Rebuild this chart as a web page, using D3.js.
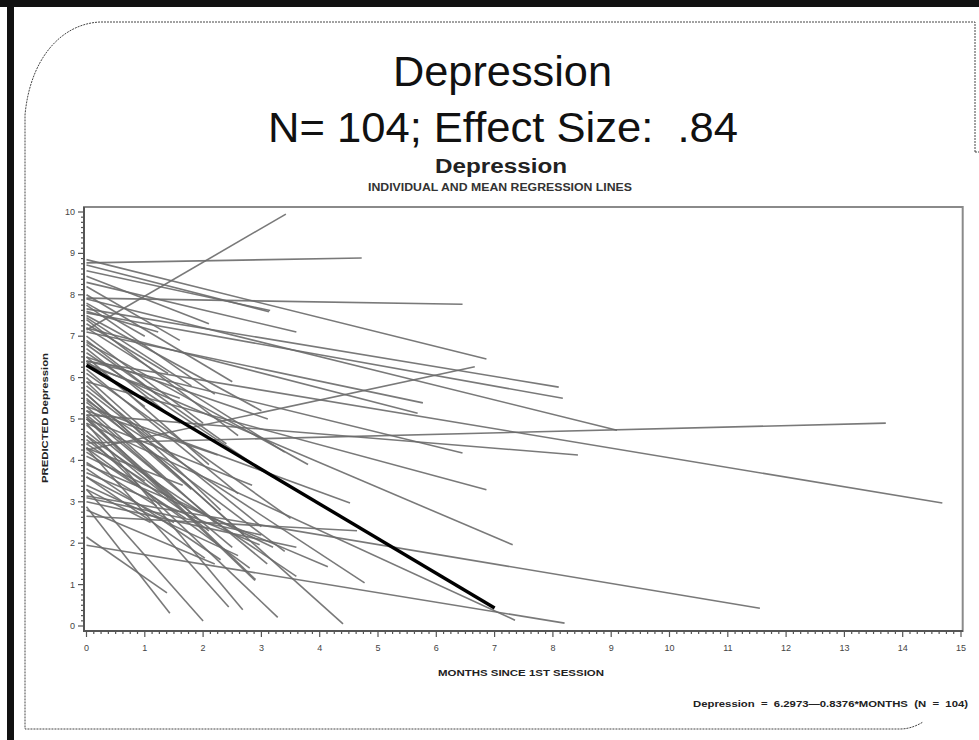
<!DOCTYPE html>
<html><head><meta charset="utf-8">
<script src="https://cdn.jsdelivr.net/npm/d3@7"></script>
<style>
html,body{margin:0;padding:0;background:#fff;}
svg{display:block;}
text{font-family:"Liberation Sans",Arial,sans-serif;white-space:pre;}
</style></head>
<body><svg id="chart" width="979" height="740"></svg>
<script>
// ---- data ----
const xTicks = [0,1,2,3,4,5,6,7,8,9,10,11,12,13,14,15];
const yTicks = [0,1,2,3,4,5,6,7,8,9,10];
// individual regression lines: predicted value at month 0, last month, predicted value at last month
const startValues = [7.15,8.77,7.92,8.85,8.72,8.58,7.56,7.66,7.9,6.4,4.42,3.14,4.25,7.1,7.2,6.4,5.1,5.9,6.35,4.9,1.95,5.45,5.6,5.3,7.6,6.5,
  2.15,2.88,3.3,4.3,4.9,4.6,5.0,5.05,3.6,3.9,3.7,4.3,5.0,5.2,
  8.45,8.3,8.2,8.0,7.8,7.75,7.5,7.45,7.4,7.3,7.2,7.0,6.9,6.85,6.8,6.7,6.6,6.5,6.4,6.2,6.1,6.0,5.9,5.8,5.7,5.6,5.5,5.4,5.3,5.2,5.1,5.0,4.85,4.7,4.6,4.5,4.4,4.3,4.2,4.1,3.95,3.8,3.6,3.4,3.3,3.1,3.0,2.65,2.8,6.3];
const endMonths = [3.42,4.72,6.45,6.86,3.13,3.15,8.17,8.1,9.1,14.68,13.71,11.55,6.66,5.77,5.68,6.45,8.43,6.86,7.31,7.35,8.2,4.77,4.4,4.52,1.23,3.11,
  1.38,1.43,2.0,2.44,2.68,3.28,2.89,2.9,2.03,4.14,2.97,1.65,2.84,2.25,
  2.1,3.6,1.6,2.5,1.0,2.2,3.0,1.8,2.6,1.4,3.4,2.0,1.2,3.8,2.4,1.6,3.2,2.1,1.0,2.6,3.5,1.5,2.3,3.0,1.1,2.7,1.8,3.4,2.2,1.3,3.1,1.9,2.5,1.4,3.6,2.1,1.0,2.8,1.7,3.2,1.2,2.3,1.5,2.6,1.1,3.0,3.6,4.64,2.2,1.6];
const endValues = [9.95,8.89,7.77,6.45,7.59,7.62,5.5,5.77,4.73,2.97,4.9,0.43,6.26,5.39,5.14,4.18,4.13,3.29,1.96,0.14,0.07,1.04,0.05,2.97,7.1,5.0,
  0.8,0.31,0.12,0.46,0.39,0.21,1.1,1.12,1.64,1.43,1.96,3.4,3.4,4.13,
  7.3,7.1,6.9,5.9,7.0,5.6,5.2,5.8,4.6,6.1,4.2,4.9,5.6,3.9,4.4,4.9,3.6,3.9,5.3,3.2,2.6,4.1,2.8,2.4,4.5,2.2,3.3,1.8,2.5,3.6,1.5,2.6,1.9,3.1,1.2,2.3,3.5,1.4,2.6,1.9,2.9,1.6,2.5,1.7,2.5,2.2,1.9,2.3,1.5,5.5];
const meanIntercept = 6.2973, meanSlope = -0.8376, meanEnd = 7.0;

// ---- layout ----
const svg = d3.select("#chart");
const x = d3.scaleLinear().domain([0,15]).range([86.5,961]);
const y = d3.scaleLinear().domain([0,10]).range([626,212]);

// outer decoration
svg.append("rect").attr("x",0).attr("y",0).attr("width",979).attr("height",7).attr("fill","#111");
svg.append("rect").attr("x",7).attr("y",0).attr("width",7).attr("height",740).attr("fill","#111");
svg.append("path")
  .attr("d","M975,152 L975,22 L100,22 C60,24 30,60 25,115 L25,729 L900,729 C910,729 918,725 923,722")
  .attr("fill","none").attr("stroke","#444").attr("stroke-width",1).attr("stroke-dasharray","2,1");
svg.append("path").attr("d","M975,152 L979,152").attr("stroke","#444").attr("stroke-dasharray","2,1");

// titles
svg.append("text").attr("x",502.5).attr("y",86).attr("text-anchor","middle").attr("font-size",42).attr("fill","#111")
  .attr("textLength",219).attr("lengthAdjust","spacingAndGlyphs").text("Depression");
svg.append("text").attr("x",503).attr("y",142).attr("text-anchor","middle").attr("font-size",42).attr("fill","#111")
  .attr("textLength",470).attr("lengthAdjust","spacingAndGlyphs").text("N= 104; Effect Size:  .84");
svg.append("text").attr("x",501).attr("y",173).attr("text-anchor","middle").attr("font-size",20).attr("font-weight","bold").attr("fill","#222")
  .attr("textLength",132).attr("lengthAdjust","spacingAndGlyphs").text("Depression");
svg.append("text").attr("x",500).attr("y",191).attr("text-anchor","middle").attr("font-size",10).attr("font-weight","bold").attr("fill","#333")
  .attr("textLength",264).attr("lengthAdjust","spacingAndGlyphs").text("INDIVIDUAL AND MEAN REGRESSION LINES");

// plot frame
svg.append("rect").attr("x",84).attr("y",207).attr("width",962.7-84).attr("height",631-207)
  .attr("fill","none").attr("stroke","#8a8a8a").attr("stroke-width",2);

// regression lines
const lineGen = d3.line().x(d=>x(d[0])).y(d=>y(d[1]));
const lines = startValues.map((v,i)=>[[0,v],[endMonths[i],endValues[i]]]);
svg.append("g").selectAll("path").data(lines).join("path")
  .attr("d",lineGen).attr("fill","none").attr("stroke","#6a6a6a").attr("stroke-width",1.6).attr("stroke-opacity",0.9);
svg.append("path").datum([[0,meanIntercept],[meanEnd,meanIntercept+meanSlope*meanEnd]])
  .attr("d",lineGen).attr("fill","none").attr("stroke","#000").attr("stroke-width",3.4);

// axes
const xAxisG = svg.append("g").attr("transform","translate(0,631)");
xAxisG.append("line").attr("x1",84).attr("x2",963).attr("stroke","#555").attr("stroke-width",2);
const xMinor = d3.range(0,15.001,0.125);
xAxisG.selectAll("line.minor").data(xMinor).join("line").attr("class","minor")
  .attr("x1",d=>x(d)).attr("x2",d=>x(d)).attr("y1",0).attr("y2",d=>Number.isInteger(d)?6:3)
  .attr("stroke","#555").attr("stroke-width",1.2);
xAxisG.selectAll("text").data(xTicks).join("text")
  .attr("x",d=>x(d)).attr("y",20).attr("text-anchor","middle").attr("font-size",9).attr("fill","#444").text(d=>d);

const yAxisG = svg.append("g").attr("transform","translate(84,0)");
yAxisG.append("line").attr("y1",207).attr("y2",632).attr("stroke","#555").attr("stroke-width",2);
const yMinor = d3.range(0,10.001,0.125);
yAxisG.selectAll("line.minor").data(yMinor).join("line").attr("class","minor")
  .attr("y1",d=>y(d)).attr("y2",d=>y(d)).attr("x1",0).attr("x2",d=>Number.isInteger(d)?-6:-3)
  .attr("stroke","#555").attr("stroke-width",1.2);
yAxisG.selectAll("text").data(yTicks).join("text")
  .attr("x",-9).attr("y",d=>y(d)+3).attr("text-anchor","end").attr("font-size",9).attr("fill","#444").text(d=>d);

// axis labels
svg.append("text").attr("transform","translate(48,418) rotate(-90)").attr("text-anchor","middle")
  .attr("font-size",9.5).attr("font-weight","bold").attr("fill","#222")
  .attr("textLength",130).attr("lengthAdjust","spacingAndGlyphs").text("PREDICTED Depression");
svg.append("text").attr("x",521).attr("y",676).attr("text-anchor","middle")
  .attr("font-size",9.5).attr("font-weight","bold").attr("fill","#222")
  .attr("textLength",166).attr("lengthAdjust","spacingAndGlyphs").text("MONTHS SINCE 1ST SESSION");
svg.append("text").attr("x",693).attr("y",707)
  .attr("font-size",9.5).attr("font-weight","bold").attr("fill","#222")
  .attr("textLength",275).attr("lengthAdjust","spacingAndGlyphs").text("Depression  =  6.2973\u20140.8376*MONTHS  (N  =  104)");
</script></body></html>
